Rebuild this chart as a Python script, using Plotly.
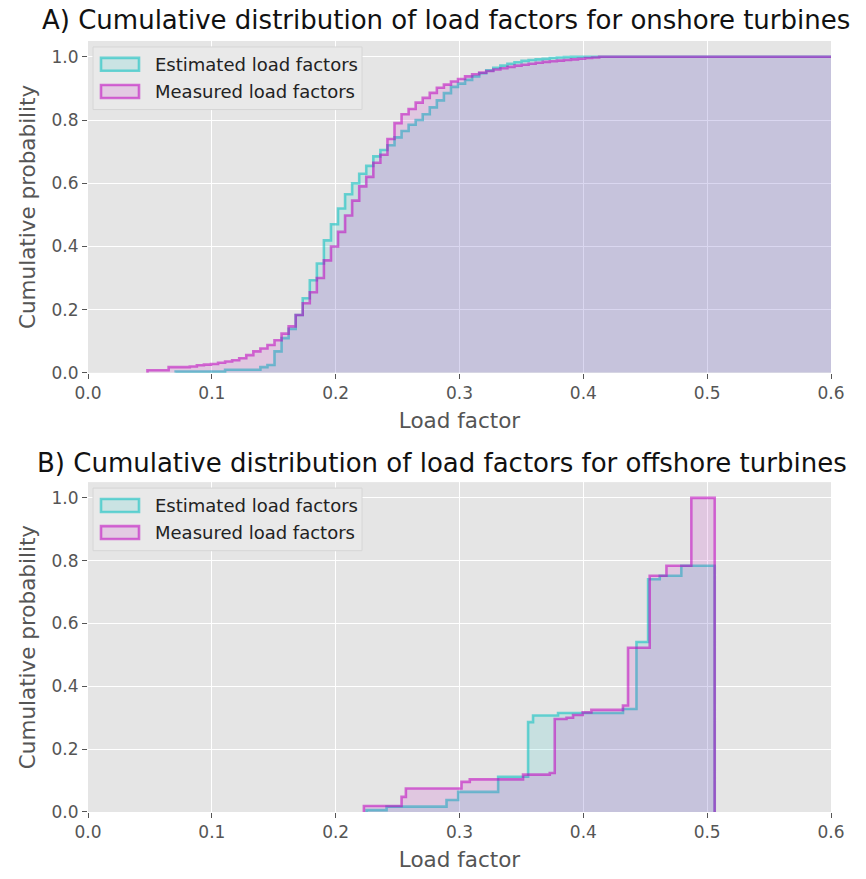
import numpy as np
import plotly.graph_objects as go

# ---------------- data ----------------
# Panel A (onshore): uniform histogram bins, cumulative fraction per bin
TOP_BIN_START = 0.048
TOP_BIN_WIDTH = 0.0057
TOP_LAST_EDGE = 0.62

top_measured = [0.008, 0.008, 0.008, 0.018, 0.018, 0.018, 0.020, 0.024, 0.026, 0.028,
                0.032, 0.036, 0.040, 0.046, 0.056, 0.068, 0.077, 0.088, 0.103, 0.124,
                0.147, 0.183, 0.220, 0.255, 0.300, 0.356, 0.400, 0.446, 0.498, 0.545,
                0.590, 0.620, 0.665, 0.690, 0.740, 0.790, 0.818, 0.835, 0.855, 0.870,
                0.886, 0.902, 0.912, 0.922, 0.930, 0.938, 0.945, 0.950, 0.955, 0.960,
                0.964, 0.968, 0.972, 0.975, 0.978, 0.981, 0.984, 0.986, 0.988, 0.990,
                0.992, 0.994, 0.996, 0.998, 1.000]
top_measured_first_bin = 0

top_estimated = [0.004, 0.004, 0.004, 0.004, 0.004, 0.004, 0.004, 0.010, 0.010, 0.010,
                 0.010, 0.010, 0.018, 0.025, 0.068, 0.110, 0.139, 0.183, 0.236, 0.293,
                 0.346, 0.419, 0.470, 0.520, 0.565, 0.600, 0.630, 0.655, 0.685, 0.705,
                 0.720, 0.745, 0.765, 0.785, 0.800, 0.818, 0.840, 0.862, 0.885, 0.905,
                 0.915, 0.927, 0.938, 0.948, 0.957, 0.965, 0.972, 0.978, 0.983, 0.987,
                 0.990, 0.992, 0.994, 0.996, 0.998, 0.999, 1.000]
top_estimated_first_bin = 4

# Panel B (offshore): bin edges and cumulative fraction per bin
bot_measured_edges = [0.2228, 0.2532, 0.2567, 0.3016, 0.3083, 0.3513, 0.3729, 0.3769, 0.3864,
                      0.3917, 0.3995, 0.4065, 0.4320, 0.4361, 0.4536, 0.4671, 0.4872, 0.5061]
bot_measured = [0.019, 0.048, 0.075, 0.096, 0.104, 0.119, 0.124, 0.296, 0.300, 0.309,
                0.317, 0.325, 0.339, 0.523, 0.752, 0.784, 1.000]

bot_estimated_edges = [0.2249, 0.2411, 0.2895, 0.2989, 0.3312, 0.3554, 0.3594, 0.3796,
                       0.4320, 0.4429, 0.4523, 0.4617, 0.4791, 0.5061]
bot_estimated = [0.006, 0.017, 0.038, 0.064, 0.112, 0.286, 0.307, 0.315, 0.328, 0.541,
                 0.741, 0.752, 0.784]

series_names = ["Estimated load factors", "Measured load factors"]
titles = ["A) Cumulative distribution of load factors for onshore turbines",
          "B) Cumulative distribution of load factors for offshore turbines"]
x_ticks = [0.0, 0.1, 0.2, 0.3, 0.4, 0.5, 0.6]
y_ticks = [0.0, 0.2, 0.4, 0.6, 0.8, 1.0]

# ---------------- styling ----------------
OFF = 8                      # page body margin
W, H = 866 - OFF, 879 - OFF  # figure size so it fits the window
# plot area in page pixels: x 88..831, top panel y 41..375, bottom panel y 485..817
ML = 88 - OFF
MR = W - (831 - OFF)
MT = 41 - OFF
MB = H - (817 - OFF)
PW, PH = W - ML - MR, H - MT - MB
FONT = "DejaVu Sans"
BG = "#E5E5E5"
CY_LINE = "rgba(0,191,191,0.55)"
CY_FILL = "rgba(0,191,191,0.13)"
MG_LINE = "rgba(191,0,191,0.55)"
MG_FILL = "rgba(191,0,191,0.13)"


def px(x):  # page x pixel -> paper
    return (x - OFF - ML) / PW


def py(y):  # page y pixel -> paper
    return (H - MB - (y - OFF)) / PH


def top_edges(first_bin, n):
    idx = np.arange(first_bin, first_bin + n)
    e = list(TOP_BIN_START + TOP_BIN_WIDTH * idx)
    return e + [TOP_LAST_EDGE]


def step_xy(edges, vals):
    x = [edges[0]] + list(edges)
    y = [0.0] + list(vals) + [0.0]
    return x, y


fig = go.Figure()

panels = [
    ("x", "y", (top_edges(top_estimated_first_bin, len(top_estimated)), top_estimated),
     (top_edges(top_measured_first_bin, len(top_measured)), top_measured)),
    ("x2", "y2", (bot_estimated_edges, bot_estimated), (bot_measured_edges, bot_measured)),
]

for xa, ya, est, mea in panels:
    for (edges, vals), lc, fc, name in [(est, CY_LINE, CY_FILL, series_names[0]),
                                         (mea, MG_LINE, MG_FILL, series_names[1])]:
        sx, sy = step_xy(edges, vals)
        fig.add_trace(go.Scatter(x=sx, y=sy, mode="lines", line=dict(color=lc, width=2.6, shape="hv"),
                                 fill="tozeroy", fillcolor=fc, name=name, showlegend=False,
                                 xaxis=xa, yaxis=ya, hoverinfo="skip"))

top_dom = [py(375), 1.0]
bot_dom = [0.0, py(485)]

axis_common = dict(showgrid=True, gridcolor="white", gridwidth=1.2, zeroline=False,
                   ticks="outside", ticklen=5, tickwidth=1, tickcolor="#555555",
                   tickfont=dict(family=FONT, size=17, color="#555555"),
                   showline=False)

xtitle = dict(text="Load factor", font=dict(family=FONT, size=21.5, color="#555555"), standoff=10)
ytitle = dict(text="Cumulative probability", font=dict(family=FONT, size=21.5, color="#555555"), standoff=10)

fig.update_layout(
    width=W, height=H, margin=dict(l=ML, r=MR, t=MT, b=MB),
    paper_bgcolor="white", plot_bgcolor=BG, showlegend=False,
    xaxis=dict(domain=[0, 1], anchor="y", range=[0, 0.6], tickvals=x_ticks,
               ticktext=[f"{v:.1f}" for v in x_ticks], title=xtitle, **axis_common),
    yaxis=dict(domain=top_dom, anchor="x", range=[0, 1.05], tickvals=y_ticks,
               ticktext=[f"{v:.1f}" for v in y_ticks], title=ytitle, **axis_common),
    xaxis2=dict(domain=[0, 1], anchor="y2", range=[0, 0.6], tickvals=x_ticks,
                ticktext=[f"{v:.1f}" for v in x_ticks], title=xtitle, **axis_common),
    yaxis2=dict(domain=bot_dom, anchor="x2", range=[0, 1.05], tickvals=y_ticks,
                ticktext=[f"{v:.1f}" for v in y_ticks], title=ytitle, **axis_common),
)

# titles
for t, cx, cy in [(titles[0], 446, 20), (titles[1], 442, 466)]:
    fig.add_annotation(text=t, xref="paper", yref="paper", x=px(cx), y=py(cy),
                       xanchor="center", yanchor="middle", showarrow=False,
                       font=dict(family=FONT, size=26, color="#111111"))

# legends (matplotlib-style patch legend)
for off in (0, 444):
    fig.add_shape(type="rect", xref="paper", yref="paper", x0=px(93), x1=px(362),
                  y0=py(110 + off), y1=py(47 + off), fillcolor="#E9E9E9",
                  line=dict(color="#D6D6D6", width=1), layer="above")
    for i, (lc, fc) in enumerate([(CY_LINE, CY_FILL), (MG_LINE, MG_FILL)]):
        yc = 64.5 + 27.3 * i + off
        fig.add_shape(type="rect", xref="paper", yref="paper", x0=px(101), x1=px(139),
                      y0=py(yc + 6.5), y1=py(yc - 6.5), fillcolor=fc,
                      line=dict(color=lc, width=2.6), layer="above")
        fig.add_annotation(text=series_names[i], xref="paper", yref="paper", x=px(153), y=py(yc),
                           xanchor="left", yanchor="middle", showarrow=False,
                           font=dict(family=FONT, size=18, color="#222222"))

fig.write_html("out.html")
